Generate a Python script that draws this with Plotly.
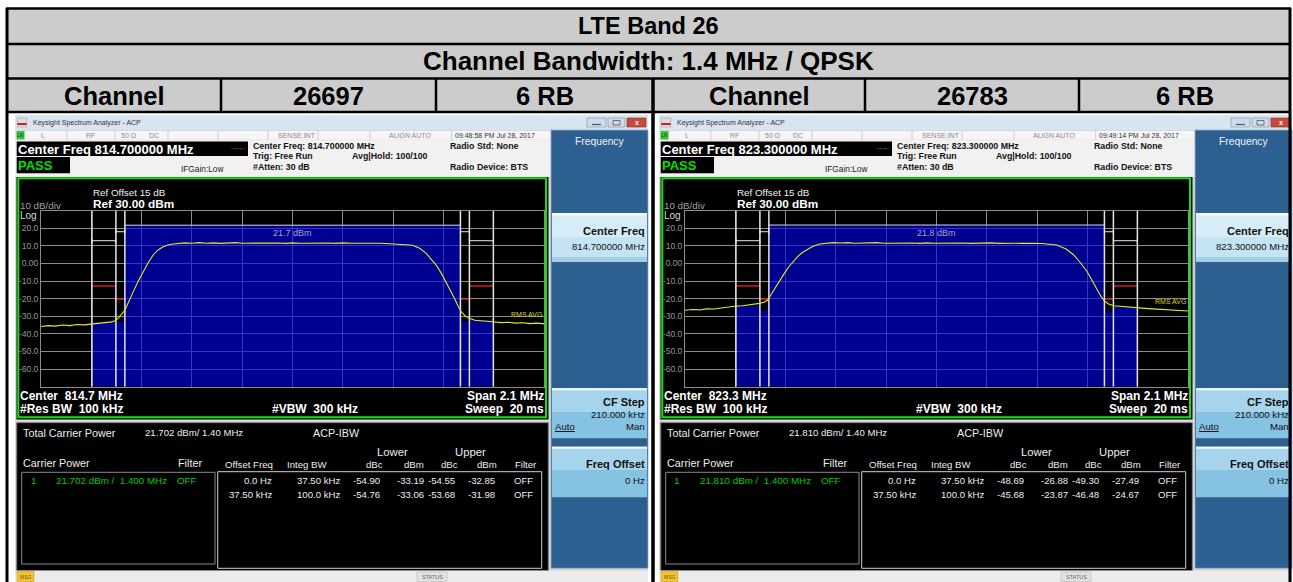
import plotly.graph_objects as go

W, H = 1293, 582
FONT = "Liberation Sans, Arial, sans-serif"

# ---------------- data ----------------
band_title = "LTE Band 26"
bw_title = "Channel Bandwidth: 1.4 MHz / QPSK"
header_cells = ["Channel", "26697", "6 RB", "Channel", "26783", "6 RB"]

span_mhz = 2.1
ref_level_dbm = 30.0
db_per_div = 10
carrier_bw_mhz = 1.4
offset_khz = [0.0, 37.5]
integ_bw_khz = [37.5, 100.0]
offset_labels = ["0.0 Hz", "37.50 kHz"]
integ_labels = ["37.50 kHz", "100.0 kHz"]
limit_dbm = [-20.2, -12.8]
bracket_dbm = [18.0, 12.9]
ytick_vals = [20, 10, 0, -10, -20, -30, -40, -50, -60]
ytick_text = ["20.0", "10.0", "0.00", "-10.0", "-20.0", "-30.0", "-40.0", "-50.0", "-60.0"]

center_mhz = [814.7, 823.3]
timestamps = ["09:48:58 PM Jul 28, 2017", "09:49:14 PM Jul 28, 2017"]
carrier_power_dbm = [21.702, 21.810]
lower_dbc = [[-54.90, -54.76], [-48.69, -45.68]]
lower_dbm = [[-33.19, -33.06], [-26.88, -23.87]]
upper_dbc = [[-54.55, -53.68], [-49.30, -46.48]]
upper_dbm = [[-32.85, -31.98], [-27.49, -24.67]]

trace1_mhz = [-1.05, -1.02, -0.99, -0.96, -0.93, -0.90, -0.87, -0.84, -0.81, -0.78, -0.755, -0.74,
              -0.725, -0.70, -0.685, -0.665, -0.645, -0.624, -0.603, -0.582, -0.56, -0.54, -0.52,
              -0.499, -0.475, -0.45, -0.42, -0.39, -0.36, -0.33, -0.30, -0.27, -0.24, -0.21, -0.18,
              -0.15, -0.12, -0.09, -0.06, -0.03, 0.0, 0.03, 0.06, 0.09, 0.12, 0.15, 0.18, 0.21, 0.24,
              0.27, 0.30, 0.33, 0.36, 0.39, 0.42, 0.45, 0.475, 0.50, 0.53, 0.557, 0.58, 0.599, 0.62,
              0.64, 0.658, 0.675, 0.69, 0.703, 0.72, 0.7375, 0.76, 0.79, 0.833, 0.87, 0.90, 0.93,
              0.96, 0.99, 1.02, 1.05]
trace1_dbm = [-35.8, -35.3, -35.6, -35.0, -35.3, -34.7, -34.9, -34.4, -34.1, -33.6, -33.2, -32.4,
              -30.6, -26.6, -21.6, -16.0, -10.3, -4.7, 0.4, 4.8, 7.8, 9.5, 10.5,
              11.0, 11.4, 11.7, 11.5, 11.8, 11.5, 11.7, 11.4, 11.6, 11.8, 11.5, 11.6,
              11.4, 11.7, 11.5, 11.6, 11.4, 11.7, 11.5, 11.6, 11.8, 11.5, 11.6, 11.4, 11.7, 11.5,
              11.6, 11.4, 11.6, 11.5, 11.3, 11.1, 10.9, 10.6, 10.3, 8.6, 5.7, 2.0, -0.9, -5.5,
              -10.4, -15.5, -19.8, -24.0, -27.4, -29.8, -31.2, -32.3, -32.8, -33.1, -33.6, -33.4, -33.9,
              -33.7, -34.2, -33.9, -34.3]

trace2_mhz = [-1.05, -1.02, -0.99, -0.96, -0.93, -0.90, -0.87, -0.844, -0.81, -0.78, -0.755, -0.739,
              -0.72, -0.705, -0.69, -0.675, -0.656, -0.635, -0.615, -0.60, -0.58, -0.56, -0.544,
              -0.52, -0.488, -0.46, -0.434, -0.40, -0.37, -0.34, -0.31, -0.28, -0.25, -0.22, -0.19,
              -0.16, -0.13, -0.10, -0.07, -0.04, -0.01, 0.02, 0.05, 0.08, 0.11, 0.14, 0.17, 0.20,
              0.23, 0.26, 0.29, 0.32, 0.35, 0.38, 0.41, 0.44, 0.47, 0.502, 0.54, 0.572, 0.60, 0.628,
              0.65, 0.669, 0.685, 0.697, 0.715, 0.739, 0.78, 0.81, 0.837, 0.87, 0.90, 0.93, 0.96,
              0.99, 1.02, 1.05]
trace2_dbm = [-26.6, -26.2, -26.4, -25.8, -25.9, -25.3, -25.0, -24.3, -24.0, -23.6, -23.1, -22.7,
              -22.0, -20.8, -17.5, -14.0, -10.4, -5.5, -1.6, 1.0, 3.9, 6.2, 7.6,
              9.5, 11.0, 11.5, 11.8, 11.6, 11.8, 11.5, 11.7, 11.6, 11.8, 11.5, 11.6,
              11.7, 11.5, 11.6, 11.4, 11.7, 11.5, 11.6, 11.7, 11.5, 11.6, 11.4, 11.6, 11.5,
              11.7, 11.4, 11.6, 11.5, 11.4, 11.6, 11.4, 11.3, 11.1, 10.5, 8.2, 4.8, 0.4, -4.7,
              -10.0, -15.1, -18.6, -20.8, -22.9, -24.0, -24.6, -24.8, -25.2, -25.5, -25.8, -26.0, -26.4,
              -26.5, -26.9, -27.0]

traces_mhz = [trace1_mhz, trace2_mhz]
traces_dbm = [trace1_dbm, trace2_dbm]

# ---------------- helpers ----------------
shapes = []
annotations = []


def X(x):
    return x / W


def Y(y):
    return 1 - y / H


def rect(x0, y0, x1, y1, fill=None, line=None, lw=0):
    shapes.append(dict(type="rect", xref="paper", yref="paper",
                       x0=X(x0), x1=X(x1), y0=Y(y1), y1=Y(y0),
                       fillcolor=fill if fill else "rgba(0,0,0,0)",
                       line=dict(color=line if line else "rgba(0,0,0,0)", width=lw),
                       layer="below"))


def seg(x0, y0, x1, y1, color, lw):
    shapes.append(dict(type="line", xref="paper", yref="paper",
                       x0=X(x0), x1=X(x1), y0=Y(y0), y1=Y(y1),
                       line=dict(color=color, width=lw), layer="below"))


def txt(x, y, s, size, color, bold=False, anchor="left", underline=False):
    if underline:
        s = "<u>" + s + "</u>"
    if bold:
        s = "<b>" + s + "</b>"
    annotations.append(dict(x=X(x), y=Y(y), xref="paper", yref="paper", text=s,
                            showarrow=False, xanchor=anchor, yanchor="middle",
                            borderpad=0, borderwidth=0,
                            font=dict(family=FONT, size=size, color=color)))


NB = "\u00a0"

# ---------------- header table ----------------
rect(7, 8, 1290, 112, fill="#cccccc")
txt(648, 26, band_title, 23.5, "black", bold=True, anchor="center")
txt(648, 61, bw_title, 26, "black", bold=True, anchor="center")
col_edges = [7, 221, 436, 653, 865, 1079, 1290]
for i, c in enumerate(header_cells):
    txt((col_edges[i] + col_edges[i + 1]) / 2, 96, c, 25.5, "black", bold=True, anchor="center")


# ---------------- analyzer windows ----------------
def window(k, ox):
    P = carrier_power_dbm[k]
    cf = center_mhz[k]
    # frame
    rect(15 + ox, 115, 648 + ox, 582, fill="#d8d8d8")
    # title bar
    rect(15 + ox, 115, 648 + ox, 130.5, fill="#d9e4f1")
    rect(17.3 + ox, 118, 26.7 + ox, 127, fill="#dcdcdc", line="#999999", lw=0.5)
    rect(17.3 + ox, 123, 26.7 + ox, 125, fill="#cc2020")
    txt(32.7 + ox, 123, "Keysight Spectrum Analyzer - ACP", 7, "#333333")
    rect(587 + ox, 118, 606 + ox, 127, fill="#cfdbea", line="#8a9bb0", lw=0.7)
    rect(608 + ox, 118, 625 + ox, 127, fill="#cfdbea", line="#8a9bb0", lw=0.7)
    rect(627 + ox, 118, 646 + ox, 127, fill="#c8493e", line="#8a3a30", lw=0.7)
    seg(592 + ox, 124.5, 601 + ox, 124.5, "#555555", 1.2)
    rect(613 + ox, 120.5, 620 + ox, 125, line="#555555", lw=0.8)
    txt(636.5 + ox, 122.5, "x", 7, "white", bold=True, anchor="center")
    # status row
    rect(15 + ox, 130.5, 551 + ox, 140, fill="#f6f6f6", line="#c8c8c8", lw=0.5)
    rect(16.5 + ox, 131, 24.5 + ox, 139.5, fill="#3cbf3c")
    txt(20.5 + ox, 135.3, "LXI", 4.5, "#104010", anchor="center")
    for dx in [66.7, 115, 168, 218, 268, 318, 370, 451.7]:
        seg(dx + ox, 130.5, dx + ox, 140, "#c4c4c4", 0.8)
    txt(43 + ox, 135.3, "L", 7, "#8a8a8a", anchor="center")
    txt(90 + ox, 135.3, "RF", 7, "#8a8a8a", anchor="center")
    txt(128 + ox, 135.3, "50 \u03a9", 7, "#8a8a8a", anchor="center")
    txt(154 + ox, 135.3, "DC", 7, "#8a8a8a", anchor="center")
    txt(297 + ox, 135.3, "SENSE:INT", 7, "#8a8a8a", anchor="center")
    txt(410 + ox, 135.3, "ALIGN AUTO", 7, "#8a8a8a", anchor="center")
    txt(455 + ox, 135.3, timestamps[k], 7, "#333333")
    # info area
    rect(15 + ox, 140, 551 + ox, 177, fill="#f1f1f1")
    rect(16.7 + ox, 141.5, 248 + ox, 156, fill="black")
    txt(18 + ox, 149, "Center Freq %.6f MHz" % cf, 13, "white", bold=True)
    rect(16.7 + ox, 157, 70 + ox, 173.3, fill="black")
    txt(18 + ox, 165.3, "PASS", 13, "#00e000", bold=True)
    txt(180.5 + ox, 169, "IFGain:Low", 8.3, "#222222")
    seg(231 + ox, 148.5, 246 + ox, 148.5, "#333333", 0.8)
    txt(238.5 + ox, 148.3, "\u25b8\u25c2", 5, "#333333", anchor="center")
    txt(253 + ox, 145.7, "Center Freq: %.6f MHz" % cf, 8.8, "#111111", bold=True)
    txt(253 + ox, 156.3, "Trig: Free Run", 8.8, "#111111", bold=True)
    txt(253 + ox, 167.3, "#Atten: 30 dB", 8.8, "#111111", bold=True)
    txt(352 + ox, 156.3, "Avg|Hold: 100/100", 8.8, "#111111", bold=True)
    txt(450 + ox, 145.7, "Radio Std: None", 8.8, "#111111", bold=True)
    txt(450 + ox, 167.3, "Radio Device: BTS", 8.8, "#111111", bold=True)
    # plot panel
    rect(16.5 + ox, 177, 548.5 + ox, 419.5, fill="black")
    rect(18.3 + ox, 178.3, 546 + ox, 417.3, line="#10e010", lw=2)
    txt(93 + ox, 192.3, "Ref Offset 15 dB", 9.8, "#f0f0f0")
    txt(93 + ox, 204.3, "Ref 30.00 dBm", 11.8, "white", bold=True)
    txt(20 + ox, 205, "10 dB/div", 9.8, "#a0a0a0")
    txt(20 + ox, 215, "Log", 10, "#d8d8d8")
    txt(20 + ox, 395.7, "Center" + NB + NB + "%.1f MHz" % cf, 12, "white", bold=True)
    txt(20 + ox, 409.3, "#Res BW" + NB + NB + "100 kHz", 12, "white", bold=True)
    txt(272 + ox, 409.3, "#VBW" + NB + NB + "300 kHz", 12, "white", bold=True)
    txt(544.3 + ox, 395.7, "Span 2.1 MHz", 12, "white", bold=True, anchor="right")
    txt(544.3 + ox, 409.3, "Sweep" + NB + NB + "20 ms", 12, "white", bold=True, anchor="right")
    # results panel
    rect(16.7 + ox, 422.7, 548.3 + ox, 570.7, fill="black", line="#7a7a7a", lw=1)
    txt(23 + ox, 433.3, "Total Carrier Power", 10.8, "#eeeeee")
    txt(145 + ox, 432.3, "%.3f dBm/ %.2f MHz" % (P, carrier_bw_mhz), 9.6, "#eeeeee")
    txt(313 + ox, 433.3, "ACP-IBW", 10.8, "#eeeeee")
    txt(23 + ox, 463.3, "Carrier Power", 10.8, "#eeeeee")
    txt(178.5 + ox, 462.7, "Filter", 10.8, "#eeeeee")
    rect(21.7 + ox, 472.3, 215 + ox, 564, line="#8a8a8a", lw=1)
    txt(33 + ox, 480.7, "1", 9.8, "#00cc00", anchor="center")
    txt(56 + ox, 480.7, "%.3f dBm /" % P + NB + NB + "%.3f MHz" % carrier_bw_mhz, 9.8, "#00cc00")
    txt(177 + ox, 480.7, "OFF", 9.8, "#00cc00")
    txt(392.7 + ox, 451.7, "Lower", 11.3, "#eeeeee", anchor="center")
    txt(470 + ox, 451.7, "Upper", 11.3, "#eeeeee", anchor="center")
    hdr = [("Offset Freq", 249), ("Integ BW", 307), ("dBc", 374.3), ("dBm", 414.3),
           ("dBc", 449), ("dBm", 486.7), ("Filter", 525.7)]
    for s, cx in hdr:
        txt(cx + ox, 464.3, s, 9.6, "#eeeeee", anchor="center")
    rect(217.7 + ox, 471.7, 541.7 + ox, 568.3, line="#d0d0d0", lw=1)
    for r in range(2):
        yy = 480 + 14 * r
        txt(272 + ox, yy, offset_labels[r], 9.6, "#eeeeee", anchor="right")
        txt(340 + ox, yy, integ_labels[r], 9.6, "#eeeeee", anchor="right")
        txt(366.7 + ox, yy, "%.2f" % lower_dbc[k][r], 9.6, "#eeeeee", anchor="center")
        txt(410.7 + ox, yy, "%.2f" % lower_dbm[k][r], 9.6, "#eeeeee", anchor="center")
        txt(441.7 + ox, yy, "%.2f" % upper_dbc[k][r], 9.6, "#eeeeee", anchor="center")
        txt(481.7 + ox, yy, "%.2f" % upper_dbm[k][r], 9.6, "#eeeeee", anchor="center")
        txt(523.3 + ox, yy, "OFF", 9.6, "#eeeeee", anchor="center")
    # status bar
    rect(15 + ox, 570.7, 648 + ox, 582, fill="#ececec")
    rect(17 + ox, 571.5, 34 + ox, 581.5, fill="#f2c230", line="#c89a10", lw=0.5)
    txt(25.5 + ox, 576.5, "MSG", 5, "#7a5a00", anchor="center")
    rect(417 + ox, 572, 447 + ox, 581.5, fill="#e2e2e2", line="#b8b8b8", lw=0.6)
    txt(432 + ox, 576.5, "STATUS", 5.5, "#666666", anchor="center")
    # softkey menu
    rect(551 + ox, 130, 648 + ox, 568.3, fill="#2d5f90", line="#8fb0cc", lw=0.8)
    txt(600 + ox, 141.7, "Frequency", 10.3, "#eef4fa", anchor="center")
    # Center Freq key
    rect(552 + ox, 213.3, 647 + ox, 261.7, fill="#c4e3f3")
    rect(552 + ox, 213.3, 647 + ox, 237, fill="#d6ecf7")
    rect(552 + ox, 213.3, 647 + ox, 215.3, fill="#ffffff")
    rect(552 + ox, 257, 647 + ox, 261.7, fill="#a4cfe6")
    txt(645 + ox, 230.7, "Center Freq", 11, "#111111", bold=True, anchor="right")
    txt(645 + ox, 246.7, "%.6f MHz" % cf, 9.6, "#111111", anchor="right")
    # CF Step key
    rect(552 + ox, 388.3, 647 + ox, 438.3, fill="#86c3e3")
    rect(552 + ox, 388.3, 647 + ox, 412, fill="#a6d4ec")
    rect(552 + ox, 388.3, 647 + ox, 390.3, fill="#f4fbff")
    txt(645 + ox, 401.7, "CF Step", 11, "#111111", bold=True, anchor="right")
    txt(645 + ox, 414.2, "210.000 kHz", 9.6, "#111111", anchor="right")
    txt(554.5 + ox, 426.7, "Auto", 9.6, "#111111", underline=True)
    txt(645 + ox, 426.7, "Man", 9.6, "#111111", anchor="right")
    # Freq Offset key
    rect(552 + ox, 446.7, 647 + ox, 497.3, fill="#86c3e3")
    rect(552 + ox, 446.7, 647 + ox, 470, fill="#a6d4ec")
    rect(552 + ox, 446.7, 647 + ox, 448.7, fill="#f4fbff")
    txt(645 + ox, 464.3, "Freq" + NB + "Offset", 11, "#111111", bold=True, anchor="right")
    txt(645 + ox, 481, "0 Hz", 9.6, "#111111", anchor="right")


OFFS = [0, 644]
for k, ox in enumerate(OFFS):
    window(k, ox)

# table borders (on top of window frames)
BL = "black"
for yy in [8.5, 44, 78.5, 112]:
    seg(6, yy, 1291, yy, BL, 2.5)
for xx in [7, 1290]:
    seg(xx, 8, xx, 582, BL, 3)
seg(653, 78.5, 653, 582, BL, 3.5)
for xx in [221, 436, 865, 1079]:
    seg(xx, 78.5, xx, 112, BL, 2.5)

# ---------------- spectrum plots ----------------
fig = go.Figure()
GRID = "#8c8c8c"
BLUE = "rgba(0,0,232,0.62)"
half = carrier_bw_mhz / 2
y_bottom = ref_level_dbm - 10 * db_per_div

for k, ox in enumerate(OFFS):
    xa = "x" if k == 0 else "x2"
    ya = "y" if k == 0 else "y2"
    P = carrier_power_dbm[k]
    # carrier integration band
    fig.add_trace(go.Scatter(x=[-half, -half, half, half, -half],
                             y=[y_bottom, P, P, y_bottom, y_bottom],
                             fill="toself", fillcolor=BLUE, mode="none",
                             hoverinfo="skip", xaxis=xa, yaxis=ya))
    edges = [-half, half]
    for r in range(len(offset_khz)):
        a = half + offset_khz[r] / 1000.0
        b = a + integ_bw_khz[r] / 1000.0
        for sgn, lvl in [(-1, lower_dbm[k][r]), (1, upper_dbm[k][r])]:
            x0, x1 = sgn * a, sgn * b
            fig.add_trace(go.Scatter(x=[x0, x0, x1, x1, x0],
                                     y=[y_bottom, lvl, lvl, y_bottom, y_bottom],
                                     fill="toself", fillcolor=BLUE, mode="none",
                                     hoverinfo="skip", xaxis=xa, yaxis=ya))
            # limit line
            fig.add_trace(go.Scatter(x=[x0, x1], y=[limit_dbm[r], limit_dbm[r]], mode="lines",
                                     line=dict(color="#d81818", width=1.5),
                                     hoverinfo="skip", xaxis=xa, yaxis=ya))
            # bandwidth bracket
            fig.add_trace(go.Scatter(x=[x0, x1], y=[bracket_dbm[r], bracket_dbm[r]],
                                     mode="lines+markers",
                                     line=dict(color="#e8e8e8", width=1),
                                     marker=dict(symbol="line-ns", size=4,
                                                 line=dict(color="#e8e8e8", width=1)),
                                     hoverinfo="skip", xaxis=xa, yaxis=ya))
            edges.append(sgn * b)
    # carrier top line
    fig.add_trace(go.Scatter(x=[-half, half], y=[P, P], mode="lines",
                             line=dict(color="#d8d8d8", width=1),
                             hoverinfo="skip", xaxis=xa, yaxis=ya))
    # integration band edges
    vx, vy = [], []
    for e in sorted(edges):
        vx += [e, e, None]
        vy += [y_bottom, ref_level_dbm, None]
    fig.add_trace(go.Scatter(x=vx, y=vy, mode="lines",
                             line=dict(color="#e6e6e6", width=1.5),
                             hoverinfo="skip", xaxis=xa, yaxis=ya))
    # measured trace
    fig.add_trace(go.Scatter(x=traces_mhz[k], y=traces_dbm[k], mode="lines",
                             line=dict(color="#e8e820", width=1.1),
                             hoverinfo="skip", xaxis=xa, yaxis=ya))
    annotations.append(dict(x=0, y=P - 4.4, xref=xa, yref=ya, text="%.1f dBm" % P,
                            showarrow=False, xanchor="center", yanchor="middle",
                            font=dict(family=FONT, size=9, color="#a4a4d4")))
    annotations.append(dict(x=span_mhz / 2, y=traces_dbm[k][-1] + 5.3, xref=xa, yref=ya,
                            text="RMS AVG", showarrow=False, xanchor="right", yanchor="middle",
                            font=dict(family=FONT, size=7, color="#d8d820")))

axis_common_x = dict(range=[-span_mhz / 2, span_mhz / 2], tick0=-span_mhz / 2, dtick=span_mhz / 10,
                     showticklabels=False, showgrid=True, gridcolor=GRID, gridwidth=1,
                     zeroline=False, showline=True, linecolor=GRID, mirror=True, ticks="",
                     fixedrange=True)
axis_common_y = dict(range=[y_bottom, ref_level_dbm], tickvals=ytick_vals, ticktext=ytick_text,
                     tickfont=dict(family=FONT, size=8.5, color="#9a9a9a"),
                     showgrid=True, gridcolor=GRID, gridwidth=1, zeroline=False,
                     showline=True, linecolor=GRID, mirror=True, ticks="", fixedrange=True)

gx0, gx1, gy0, gy1 = 41, 544.3, 210.6, 386.7
fig.update_layout(
    width=W, height=H, margin=dict(l=0, r=0, t=0, b=0),
    paper_bgcolor="white", plot_bgcolor="black", showlegend=False,
    xaxis=dict(domain=[X(gx0), X(gx1)], anchor="y", **axis_common_x),
    yaxis=dict(domain=[Y(gy1), Y(gy0)], anchor="x", **axis_common_y),
    xaxis2=dict(domain=[X(gx0 + OFFS[1]), X(gx1 + OFFS[1])], anchor="y2", **axis_common_x),
    yaxis2=dict(domain=[Y(gy1), Y(gy0)], anchor="x2", **axis_common_y),
    shapes=shapes, annotations=annotations,
)

fig.write_html("out.html", config={"displayModeBar": False},
               post_script="document.body.style.margin='0';document.body.style.overflow='hidden';")
